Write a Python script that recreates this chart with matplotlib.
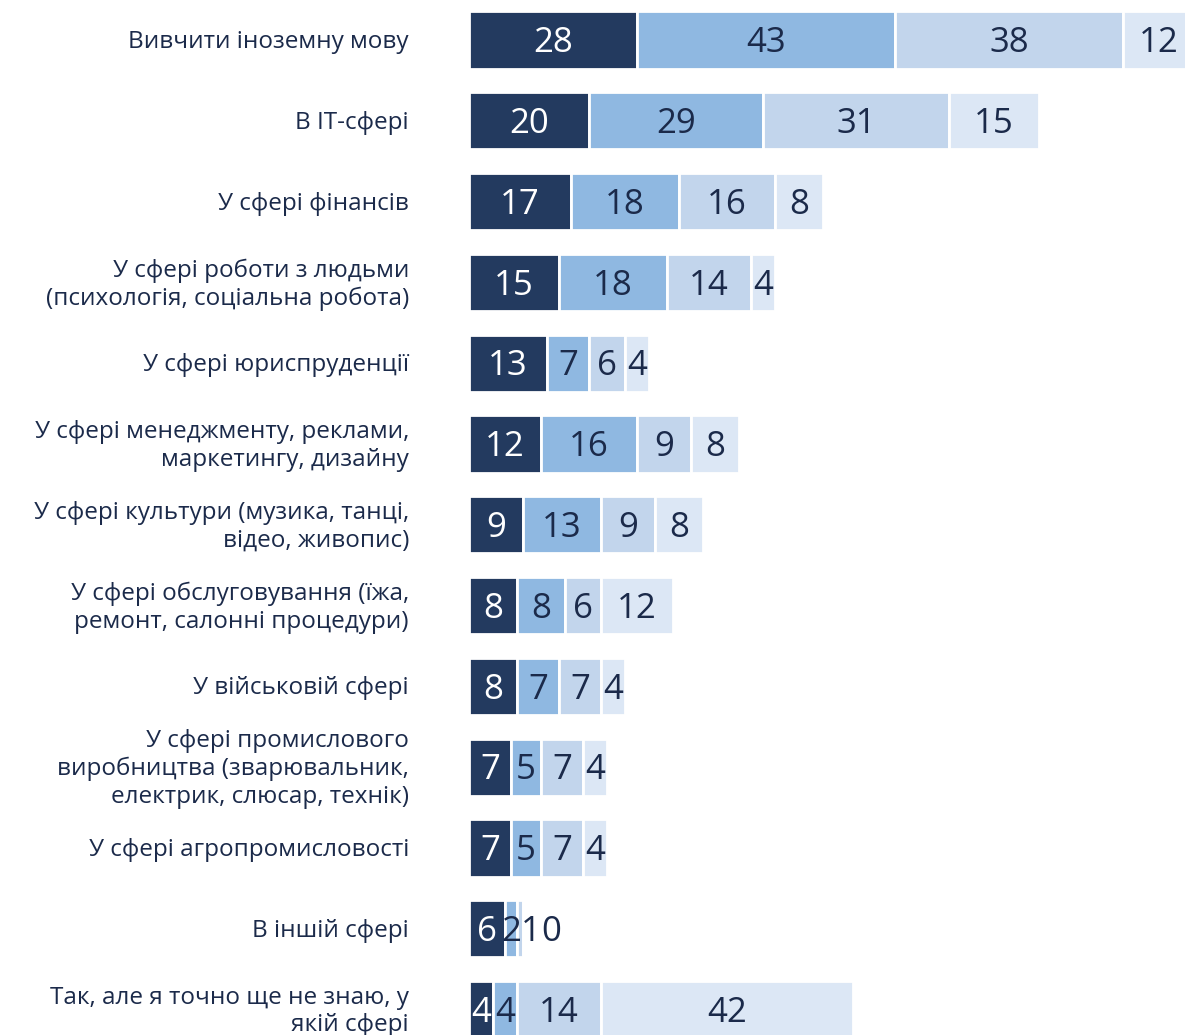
import numpy as np
import matplotlib.pyplot as plt

plt.rcParams['font.family'] = ['Open Sans', 'DejaVu Sans']

categories = [
    "Вивчити іноземну мову",
    "В ІТ-сфері",
    "У сфері фінансів",
    "У сфері роботи з людьми\n(психологія, соціальна робота)",
    "У сфері юриспруденції",
    "У сфері менеджменту, реклами,\nмаркетингу, дизайну",
    "У сфері культури (музика, танці,\nвідео, живопис)",
    "У сфері обслуговування (їжа,\nремонт, салонні процедури)",
    "У військовій сфері",
    "У сфері промислового\nвиробництва (зварювальник,\nелектрик, слюсар, технік)",
    "У сфері агропромисловості",
    "В іншій сфері",
    "Так, але я точно ще не знаю, у\nякій сфері",
]

s1 = [28, 20, 17, 15, 13, 12, 9, 8, 8, 7, 7, 6, 4]
s2 = [43, 29, 18, 18, 7, 16, 13, 8, 7, 5, 5, 2, 4]
s3 = [38, 31, 16, 14, 6, 9, 9, 6, 7, 7, 7, 1, 14]
s4 = [12, 15, 8, 4, 4, 8, 8, 12, 4, 4, 4, 0.4, 42]

colors = ['#233a5f', '#8fb8e1', '#c2d5ec', '#dce7f5']
text_colors = ['white', '#1b2a4a', '#1b2a4a', '#1b2a4a']
label_color = '#1b2a4a'

W, H = 1185, 1035
fig = plt.figure(figsize=(W / 100, H / 100), dpi=100)
x0 = 469 / W
ax = fig.add_axes([x0, 0, 1 - x0, 1])

row_step = 80.8
first_center = 40
y = np.arange(len(categories))
px_per_unit = 6.0
ax.set_xlim(0, (W - 469) / px_per_unit)
ax.set_ylim((H - first_center) / row_step, -first_center / row_step)
ax.axis('off')

series = [s1, s2, s3, s4]
left = np.zeros(len(categories))
texts = [[] for _ in categories]
for k, vals in enumerate(series):
    vals = np.array(vals, dtype=float)
    ax.barh(y, vals, left=left, height=0.71, color=colors[k],
            edgecolor='white', linewidth=2)
    for i, v in enumerate(vals):
        t = ax.text(left[i] + v / 2, y[i] + 0.04, f"{v:.0f}", ha='center', va='center',
                    fontsize=25, color=text_colors[k] if v >= 3 else label_color)
        texts[i].append(t)
    left += vals

# push overlapping value labels to the right
fig.canvas.draw()
renderer = fig.canvas.get_renderer()
inv = ax.transData.inverted()
for row in texts:
    prev_right = None
    for t in row:
        bb = t.get_window_extent(renderer)
        if prev_right is not None and bb.x0 < prev_right:
            shift = prev_right - bb.x0
            xd = inv.transform((bb.x0 + shift + bb.width / 2, 0))[0]
            t.set_x(xd)
            bb = t.get_window_extent(renderer)
        prev_right = bb.x1

for i, cat in enumerate(categories):
    ax.annotate(cat, xy=(0, y[i]), xycoords='data', xytext=(-60, -2),
                textcoords='offset pixels', ha='right', va='center',
                fontsize=17.5, color=label_color, linespacing=1.2,
                annotation_clip=False)

fig.savefig('out.png', dpi=100)
